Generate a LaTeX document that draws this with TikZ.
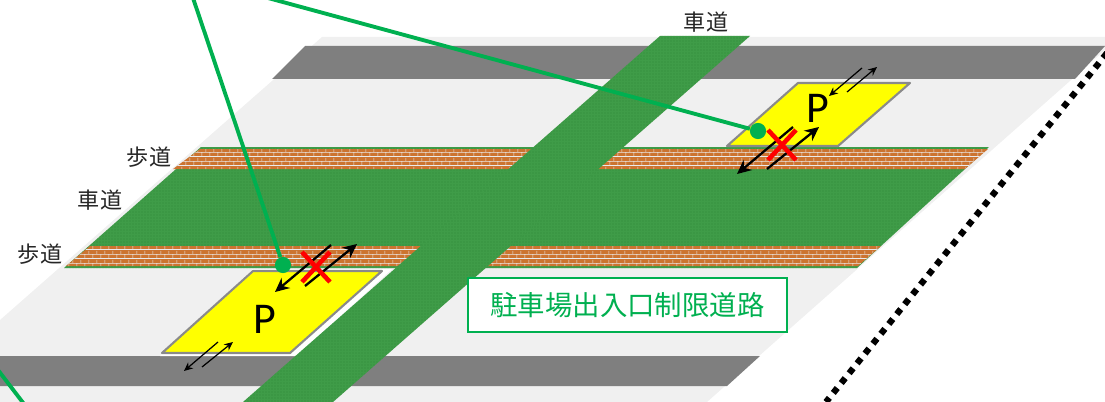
\documentclass[tikz,border=0pt]{standalone}
\usepackage{fontspec}
\newfontfamily\cjk{Noto Sans CJK JP}
\setmainfont{Carlito}
\usepackage{tikz}
\usetikzlibrary{arrows.meta,patterns}
\definecolor{groundgray}{HTML}{F0F0F0}
\definecolor{roadgray}{HTML}{7F7F7F}
\definecolor{roadgreen}{HTML}{3F9C48}
\definecolor{dotgreen}{HTML}{2F8A3A}
\definecolor{walkorange}{HTML}{CC7430}
\definecolor{brickline}{HTML}{EBC68C}
\definecolor{labelgreen}{HTML}{00B050}
\definecolor{lotgray}{HTML}{8A8A8A}
\definecolor{lotyellow}{RGB}{255,255,0}
\definecolor{crossred}{RGB}{255,0,0}
\pgfdeclarepatternformonly{walkbricks}{\pgfpointorigin}{\pgfqpoint{4.8pt}{4.8pt}}{\pgfqpoint{4.8pt}{4.8pt}}{
	\pgfsetlinewidth{0.33pt}
	\pgfsetstrokecolor{brickline}
	\pgfpathmoveto{\pgfqpoint{0pt}{0.3pt}}\pgfpathlineto{\pgfqpoint{4.8pt}{0.3pt}}
	\pgfpathmoveto{\pgfqpoint{0pt}{2.7pt}}\pgfpathlineto{\pgfqpoint{4.8pt}{2.7pt}}
	\pgfpathmoveto{\pgfqpoint{1.2pt}{0.3pt}}\pgfpathlineto{\pgfqpoint{1.2pt}{2.7pt}}
	\pgfpathmoveto{\pgfqpoint{3.6pt}{2.7pt}}\pgfpathlineto{\pgfqpoint{3.6pt}{4.8pt}}
	\pgfusepath{stroke}
}
\pgfdeclarepatternformonly{roaddots}{\pgfpointorigin}{\pgfqpoint{1.4pt}{1.4pt}}{\pgfqpoint{1.4pt}{1.4pt}}{
	\pgfpathcircle{\pgfqpoint{0.7pt}{0.7pt}}{0.36pt}
	\pgfusepath{fill}
}
\tikzset{
	roadgreenfill/.style={fill=roadgreen,postaction={pattern=roaddots,pattern color=dotgreen}},
	walkfill/.style={fill=walkorange,postaction={pattern=walkbricks}},
	lotfill/.style={fill=lotyellow,draw=lotgray,line width=1.2pt,line join=round},
	bigarrow/.style={line width=1.3pt,-{Stealth[length=8pt,width=7.5pt]}},
	thinarrow/.style={line width=0.7pt,-{Stealth[length=5pt,width=4.5pt]}},
	calloutline/.style={draw=labelgreen,line width=2.2pt},
	calloutdot/.style={circle,fill=labelgreen,inner sep=0pt,minimum size=9.2pt},
	roadlabel/.style={font=\cjk\fontsize{12.6pt}{12.6pt}\selectfont,text=black!85,inner sep=0pt},
	lotletter/.style={font=\fontsize{25pt}{25pt}\selectfont,inner sep=0pt}
}
\def\crossmark(#1,#2)% Syntax: (center x,center y)
{ \draw[crossred,line width=2.6pt] (#1-14,#2-15)--(#1+14,#2+15) (#1+14,#2-15)--(#1-14,#2+15); }
\begin{document}
\begin{tikzpicture}[x=0.02cm,y=-0.02cm]
	\useasboundingbox (0,0) rectangle (1105,402);
	% ground and grey roads
	\fill[groundgray] (322,37)--(1105,37)--(1105,50)--(707,402)--(0,402)--(0,320)--cycle;
	\fill[roadgray] (305,46)--(1105,46)--(1075,79)--(272,79)--cycle;
	\fill[roadgray] (0,356)--(760,356)--(727,386)--(0,386)--cycle;
	%
	\fill[white] (253,269)--(392,269)--(297,356)--(160,356)--cycle;
	% green roads
	\path[roadgreenfill] (201,147)--(989,147)--(857,268)--(64,268)--cycle;
	\path[walkfill] (200,149)--(988,149)--(965,169)--(173,169)--cycle;
	\path[walkfill] (90,246)--(881,246)--(858,266)--(66,266)--cycle;
	\path[roadgreenfill] (660,36)--(750,36)--(333,402)--(243,402)--cycle;
	%
	\path[lotfill] (253,271)--(382,271)--(290,353)--(162,353)--cycle;
	\path[lotfill] (798,83)--(910,83)--(838,146)--(727,146)--cycle;
	\node[lotletter] (lotA) at (265,319) {P};
	\node[lotletter] (lotB) at (818,108) {P};
	%
	\draw[bigarrow] (331,245)--(275,292);
	\draw[bigarrow] (305,286)--(357,244);
	\draw[thinarrow] (218,342)--(184,371);
	\draw[thinarrow] (202,367)--(233,342);
	\draw[bigarrow] (793,127)--(737,174);
	\draw[bigarrow] (767,169)--(819,127);
	\draw[thinarrow] (862,68)--(829,96);
	\draw[thinarrow] (847,92)--(877,67);
	\crossmark(316,267)
	\crossmark(782,145)
	% site boundary
	\draw[line width=3.6pt,dash pattern=on 3.6pt off 3.6pt] (1107,53)--(826,402);
	% callouts
	\coordinate (startA) at (193,-2);
	\coordinate (startB) at (268,-2);
	\coordinate (startC) at (-2,370);
	\coordinate (endC) at (24,404);
	\node[calloutdot] (dotA) at (283,265) {};
	\node[calloutdot] (dotB) at (758,131) {};
	\draw[calloutline] (startA)--(dotA);
	\draw[calloutline] (startB)--(dotB);
	\draw[calloutline] (startC)--(endC);
	%
	\node[roadlabel] (walkA) at (149,157) {歩道};
	\node[roadlabel] (carA) at (100,200) {車道};
	\node[roadlabel] (walkB) at (40,254) {歩道};
	\node[roadlabel] (carB) at (706,22) {車道};
	\node[draw=labelgreen,fill=white,line width=1.3pt,minimum width=181.5pt,minimum height=30.5pt,inner sep=0pt,text=labelgreen,font=\cjk\fontsize{15.6pt}{15.6pt}\selectfont] (limitbox) at (627.5,305) {駐車場出入口制限道路};
\end{tikzpicture}
\end{document}
